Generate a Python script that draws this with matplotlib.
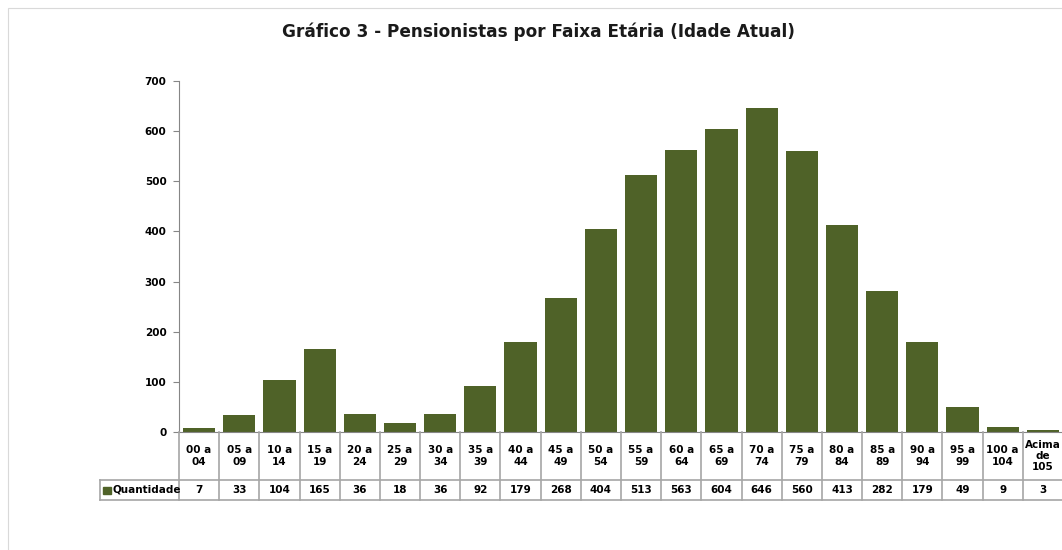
import matplotlib.pyplot as plt
from matplotlib.patches import Rectangle

categorias = ['00 a\n04', '05 a\n09', '10 a\n14', '15 a\n19', '20 a\n24', '25 a\n29',
              '30 a\n34', '35 a\n39', '40 a\n44', '45 a\n49', '50 a\n54', '55 a\n59',
              '60 a\n64', '65 a\n69', '70 a\n74', '75 a\n79', '80 a\n84', '85 a\n89',
              '90 a\n94', '95 a\n99', '100 a\n104', 'Acima\nde\n105']
quantidade = [7, 33, 104, 165, 36, 18, 36, 92, 179, 268, 404, 513, 563, 604,
              646, 560, 413, 282, 179, 49, 9, 3]
yticks = [0, 100, 200, 300, 400, 500, 600, 700]

cor = '#4F6228'
grade = '#A6A6A6'
W, H = 1062, 550
fig = plt.figure(figsize=(W / 100, H / 100), dpi=100)
plt.rcParams['font.family'] = 'DejaVu Sans'

# moldura do grafico
fig.patches.append(Rectangle((8 / W, -0.01), 1.0, (H - 8) / H + 0.01, transform=fig.transFigure,
                             fill=False, edgecolor='#D9D9D9', lw=0.8))

fig.text(538 / W, 1 - 32 / H, 'Gráfico 3 - Pensionistas por Faixa Etária (Idade Atual)',
         ha='center', va='center', fontsize=12.2, fontweight='bold', color='#1a1a1a')

n = len(categorias)
ax = fig.add_axes([179 / W, (H - 432) / H, 884 / W, 351 / H])
x = list(range(n))
ax.bar(x, quantidade, width=0.8, color=cor)
ax.set_xlim(-0.5, n - 0.5)
ax.set_ylim(0, 700)
ax.set_yticks(yticks)
ax.set_yticklabels([str(v) for v in yticks], fontsize=7.5, fontweight='bold')
ax.tick_params(axis='y', length=4, color='#868686', pad=5)
ax.set_xticks([])
for s in ['top', 'right']:
    ax.spines[s].set_visible(False)
ax.spines['left'].set_color('#868686')
ax.spines['bottom'].set_color('#868686')

# tabela de dados
unit = 884 / n
x0 = -0.5 - 79 / unit
tb = fig.add_axes([100 / W, (H - 500) / H, 963 / W, 68 / H])
tb.set_xlim(x0, n - 0.5)
tb.set_ylim(68, 0)
tb.axis('off')
lw = 1.2
for i in range(n + 1):
    tb.plot([i - 0.5, i - 0.5], [0, 68], color=grade, lw=lw, clip_on=False)
tb.plot([x0, x0], [48, 68], color=grade, lw=lw, clip_on=False)
tb.plot([x0, n - 0.5], [48, 48], color=grade, lw=lw, clip_on=False)
tb.plot([x0, n - 0.5], [68, 68], color=grade, lw=lw, clip_on=False)
for i, (c, v) in enumerate(zip(categorias, quantidade)):
    tb.text(i, 24, c, ha='center', va='center', fontsize=7.5, fontweight='bold',
            linespacing=1.15)
    tb.text(i, 58, str(v), ha='center', va='center', fontsize=7.5, fontweight='bold')
tb.add_patch(Rectangle((x0 + 3 / unit, 54.5), 8 / unit, 7, color=cor, clip_on=False))
tb.text(x0 + 12 / unit, 58, 'Quantidade', ha='left', va='center', fontsize=7.5,
        fontweight='bold')

fig.savefig('out.png', dpi=100)
